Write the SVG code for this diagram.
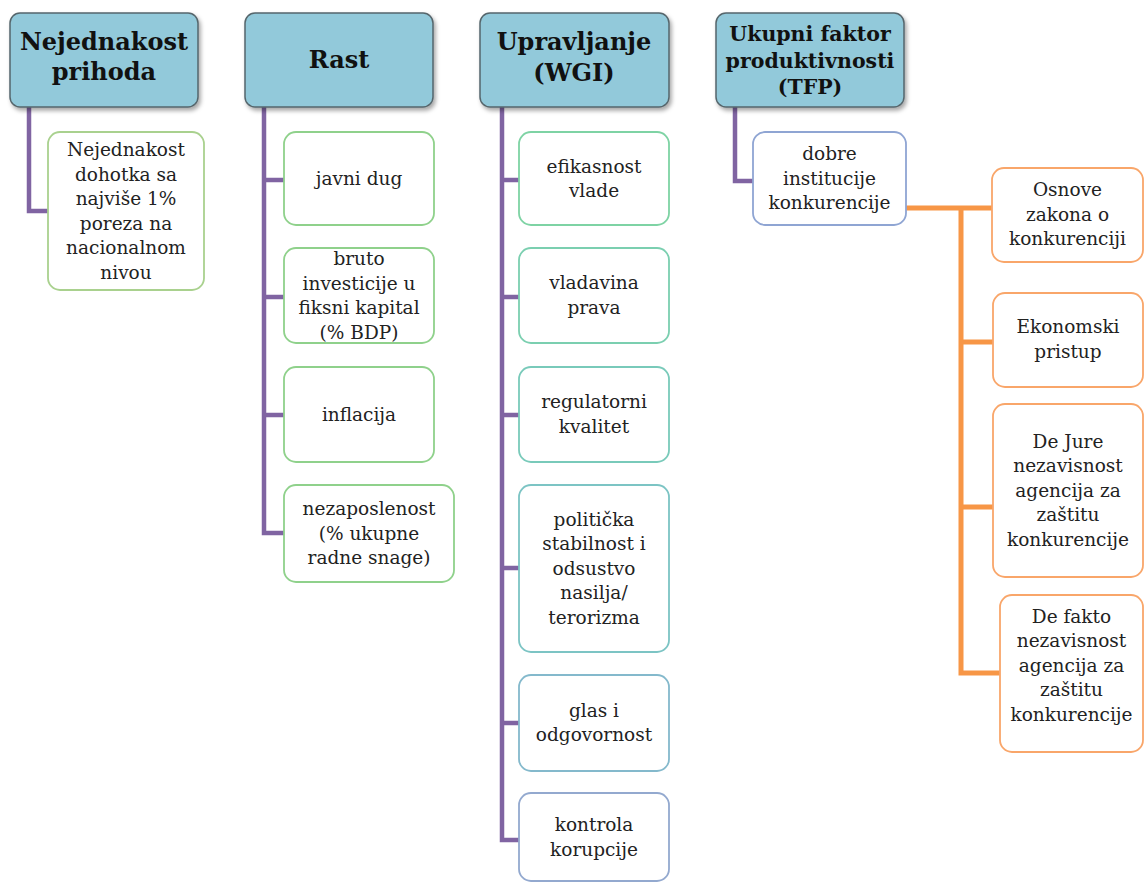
<svg xmlns="http://www.w3.org/2000/svg" width="1144" height="884" viewBox="0 0 1144 884">
<defs>
<filter id="sh" x="-10%" y="-10%" width="125%" height="130%">
<feDropShadow dx="2" dy="3" stdDeviation="2" flood-color="#000" flood-opacity="0.35"/>
</filter>
<style>
.hd{fill:#92C9DA;stroke:#56666C;stroke-width:1.5;filter:url(#sh)}
.ht{font-family:"DejaVu Serif","Liberation Serif",serif;font-weight:bold;font-size:24px;fill:#111;text-anchor:middle}
.ht2{font-size:20.5px}
.bx{fill:#fff;stroke-width:1.8}
.t{font-family:"DejaVu Serif","Liberation Serif",serif;font-size:18.5px;fill:#222;text-anchor:middle}
.pu{fill:none;stroke:#8064A2;stroke-width:4.5}
.or{fill:none;stroke:#F79646;stroke-width:5}
</style>
</defs>
<rect width="1144" height="884" fill="#fff"/>
<g id="connectors">
<path class="pu" d="M29,107 V211 H48"/>
<path class="pu" d="M264,107 V533 H284 M264,180 H284 M264,297 H284 M264,415 H284"/>
<path class="pu" d="M502,107 V840 H519 M502,180 H519 M502,297 H519 M502,415 H519 M502,568 H519 M502,723 H519"/>
<path class="pu" d="M735,107 V181 H753"/>
<path class="or" d="M906,208 H993 M961,208 V673 H1000 M961,342 H993 M961,507 H993"/>
</g>
<g id="h1"><rect class="hd" x="10" y="13" width="188" height="94" rx="10"/>
<text class="ht" x="104" y="50">Nejednakost</text><text class="ht" x="104" y="80">prihoda</text></g>
<g id="h2"><rect class="hd" x="245" y="13" width="188" height="94" rx="10"/>
<text class="ht" x="339" y="68">Rast</text></g>
<g id="h3"><rect class="hd" x="480" y="13" width="189" height="94" rx="10"/>
<text class="ht" x="574" y="50">Upravljanje</text><text class="ht" x="574" y="81">(WGI)</text></g>
<g id="h4"><rect class="hd" x="716" y="13" width="188" height="94" rx="10"/>
<text class="ht ht2" x="810" y="41">Ukupni faktor</text><text class="ht ht2" x="810" y="68">produktivnosti</text><text class="ht ht2" x="810" y="94">(TFP)</text></g>

<g id="n1"><rect class="bx" x="48" y="132" width="156" height="158" rx="12" stroke="#A9D18E"/>
<text class="t" x="126" y="156">Nejednakost</text><text class="t" x="126" y="180.5">dohotka sa</text><text class="t" x="126" y="205">najviše 1%</text><text class="t" x="126" y="229.5">poreza na</text><text class="t" x="126" y="254">nacionalnom</text><text class="t" x="126" y="278.5">nivou</text></g>

<g id="r1"><rect class="bx" x="284" y="132" width="150" height="93" rx="12" stroke="#8FD18B"/>
<text class="t" x="359" y="185">javni dug</text></g>
<g id="r2"><rect class="bx" x="284" y="248" width="150" height="95" rx="12" stroke="#8FD18B"/>
<text class="t" x="359" y="265">bruto</text><text class="t" x="359" y="289.5">investicije u</text><text class="t" x="359" y="314">fiksni kapital</text><text class="t" x="359" y="338.5">(% BDP)</text></g>
<g id="r3"><rect class="bx" x="284" y="367" width="150" height="95" rx="12" stroke="#8FD18B"/>
<text class="t" x="359" y="421">inflacija</text></g>
<g id="r4"><rect class="bx" x="284" y="485" width="170" height="97" rx="12" stroke="#8FD18B"/>
<text class="t" x="369" y="515">nezaposlenost</text><text class="t" x="369" y="539.5">(% ukupne</text><text class="t" x="369" y="564">radne snage)</text></g>

<g id="u1"><rect class="bx" x="519" y="132" width="150" height="93" rx="12" stroke="#7ED3A4"/>
<text class="t" x="594" y="172.5">efikasnost</text><text class="t" x="594" y="197">vlade</text></g>
<g id="u2"><rect class="bx" x="519" y="248" width="150" height="95" rx="12" stroke="#7BCFB0"/>
<text class="t" x="594" y="289">vladavina</text><text class="t" x="594" y="313.5">prava</text></g>
<g id="u3"><rect class="bx" x="519" y="367" width="150" height="95" rx="12" stroke="#79CABA"/>
<text class="t" x="594" y="408">regulatorni</text><text class="t" x="594" y="432.5">kvalitet</text></g>
<g id="u4"><rect class="bx" x="519" y="485" width="150" height="167" rx="12" stroke="#7CC4C4"/>
<text class="t" x="594" y="525.5">politička</text><text class="t" x="594" y="550">stabilnost i</text><text class="t" x="594" y="574.5">odsustvo</text><text class="t" x="594" y="599">nasilja/</text><text class="t" x="594" y="623.5">terorizma</text></g>
<g id="u5"><rect class="bx" x="519" y="675" width="150" height="96" rx="12" stroke="#84B9CC"/>
<text class="t" x="594" y="716.5">glas i</text><text class="t" x="594" y="741">odgovornost</text></g>
<g id="u6"><rect class="bx" x="519" y="793" width="150" height="88" rx="12" stroke="#93A9CF"/>
<text class="t" x="594" y="831">kontrola</text><text class="t" x="594" y="855.5">korupcije</text></g>

<g id="t1"><rect class="bx" x="753" y="132" width="153" height="93" rx="12" stroke="#8FA5D3"/>
<text class="t" x="829.5" y="160">dobre</text><text class="t" x="829.5" y="184.5">institucije</text><text class="t" x="829.5" y="209">konkurencije</text></g>
<g id="o1"><rect class="bx" x="992" y="168" width="151" height="94" rx="12" stroke="#F9A66A"/>
<text class="t" x="1067.5" y="196">Osnove</text><text class="t" x="1067.5" y="220.5">zakona o</text><text class="t" x="1067.5" y="245">konkurenciji</text></g>
<g id="o2"><rect class="bx" x="993" y="293" width="150" height="94" rx="12" stroke="#F9A66A"/>
<text class="t" x="1068" y="333">Ekonomski</text><text class="t" x="1068" y="357.5">pristup</text></g>
<g id="o3"><rect class="bx" x="993" y="404" width="150" height="173" rx="12" stroke="#F9A66A"/>
<text class="t" x="1068" y="447.5">De Jure</text><text class="t" x="1068" y="472">nezavisnost</text><text class="t" x="1068" y="496.5">agencija za</text><text class="t" x="1068" y="521">zaštitu</text><text class="t" x="1068" y="545.5">konkurencije</text></g>
<g id="o4"><rect class="bx" x="1000" y="595" width="143" height="157" rx="12" stroke="#F9A66A"/>
<text class="t" x="1071.5" y="622.5">De fakto</text><text class="t" x="1071.5" y="647">nezavisnost</text><text class="t" x="1071.5" y="671.5">agencija za</text><text class="t" x="1071.5" y="696">zaštitu</text><text class="t" x="1071.5" y="720.5">konkurencije</text></g>
</svg>
